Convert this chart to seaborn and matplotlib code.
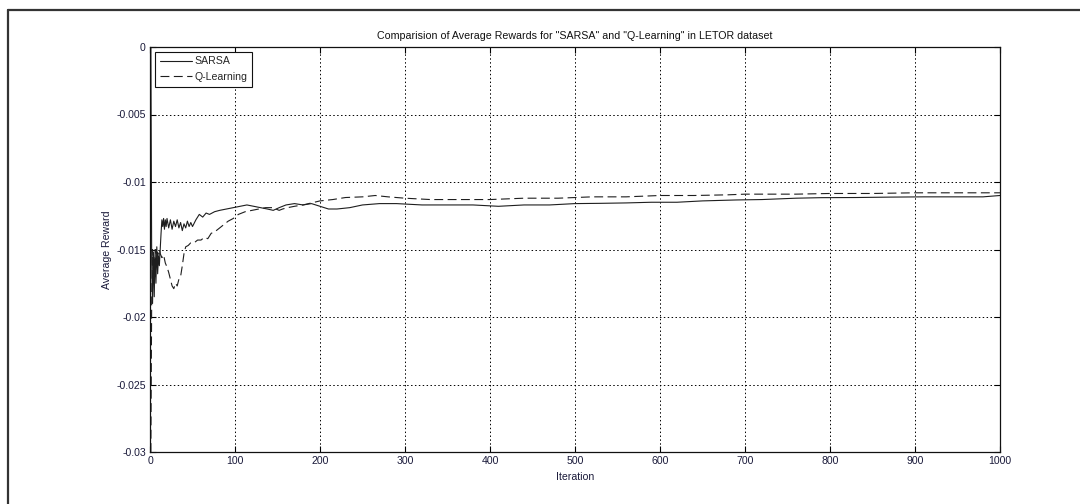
import matplotlib
matplotlib.use("Agg")
import matplotlib.pyplot as plt
from matplotlib.lines import Line2D
import numpy as np
import pandas as pd
import seaborn as sns

# Average reward per iteration for the two learners
sarsa_iter = [1, 2, 3, 4, 5, 6, 7, 8, 9, 10, 11, 12, 13, 14, 15, 16, 17, 18, 19, 20,
              22, 24, 26, 28, 30, 32, 34, 36, 38, 40, 42, 44, 46, 48, 50, 54, 58, 62,
              66, 70, 76, 82, 90, 98, 106, 114, 122, 130, 138, 145, 152, 160, 170, 180,
              190, 200, 210, 220, 235, 250, 270, 290, 320, 350, 380, 410, 440, 470, 500,
              530, 560, 590, 620, 650, 690, 720, 760, 790, 830, 870, 910, 950, 980, 1000]
sarsa_reward = [0.0, -0.0160, -0.0190, -0.0152, -0.0185, -0.0150, -0.0175, -0.0148,
                -0.0168, -0.0155, -0.0162, -0.0150, -0.0138, -0.0128, -0.0133, -0.0127,
                -0.0135, -0.0128, -0.0133, -0.0127, -0.0134, -0.0128, -0.0135, -0.0129,
                -0.0133, -0.0128, -0.0134, -0.0130, -0.0136, -0.0131, -0.0134, -0.0129,
                -0.0133, -0.0130, -0.0133, -0.0128, -0.0124, -0.0126, -0.0123, -0.0124,
                -0.0122, -0.0121, -0.0120, -0.0119, -0.0118, -0.0117, -0.0118, -0.0119,
                -0.0120, -0.0121, -0.0119, -0.0117, -0.0116, -0.0117, -0.0116, -0.0118,
                -0.0120, -0.0120, -0.0119, -0.0117, -0.0116, -0.0116, -0.0117, -0.0117,
                -0.0117, -0.0118, -0.0117, -0.0117, -0.0116, -0.01158, -0.01155, -0.0115,
                -0.0115, -0.0114, -0.01133, -0.0113, -0.0112, -0.01116, -0.01115, -0.01112,
                -0.0111, -0.0111, -0.0111, -0.0110]

qlearn_iter = [1, 2, 3, 4, 5, 6, 7, 8, 9, 10, 11, 12, 14, 16, 18, 20, 22, 24, 26, 28,
               30, 32, 34, 36, 38, 40, 42, 45, 48, 52, 56, 60, 64, 68, 72, 76, 80, 86,
               92, 98, 104, 112, 120, 128, 136, 144, 152, 156, 162, 170, 180, 190, 200,
               215, 230, 250, 265, 280, 300, 330, 360, 400, 440, 480, 520, 560, 600, 640,
               680, 700, 720, 760, 800, 850, 900, 950, 1000]
qlearn_reward = [-0.0300, -0.0185, -0.0150, -0.0175, -0.0155, -0.0170, -0.0150, -0.0162,
                 -0.0152, -0.0158, -0.0150, -0.0153, -0.0156, -0.0154, -0.0160, -0.0163,
                 -0.0167, -0.0172, -0.0177, -0.0179, -0.0175, -0.0177, -0.0172, -0.0170,
                 -0.0162, -0.0153, -0.0148, -0.0147, -0.0145, -0.0145, -0.0143, -0.0143,
                 -0.0141, -0.0142, -0.0138, -0.0137, -0.0135, -0.0132, -0.0129, -0.0127,
                 -0.0124, -0.0122, -0.0121, -0.0120, -0.0119, -0.0119, -0.0121, -0.0120,
                 -0.0119, -0.0118, -0.0117, -0.01155, -0.0114, -0.0113, -0.01115, -0.0111,
                 -0.0110, -0.0111, -0.0112, -0.0113, -0.0113, -0.0113, -0.0112, -0.0112,
                 -0.0111, -0.0111, -0.0110, -0.0110, -0.01095, -0.0109, -0.0109, -0.0109,
                 -0.01085, -0.01085, -0.0108, -0.0108, -0.0108]

x_ticks = [0, 100, 200, 300, 400, 500, 600, 700, 800, 900, 1000]
y_ticks = [-0.03, -0.025, -0.02, -0.015, -0.01, -0.005, 0]
y_tick_labels = ["-0.03", "-0.025", "-0.02", "-0.015", "-0.01", "-0.005", "0"]

sns.set_theme(style="white")
plt.rcParams["font.family"] = ["Liberation Sans", "DejaVu Sans"]
plt.rcParams["xtick.direction"] = "in"
plt.rcParams["ytick.direction"] = "in"

fig = plt.figure(figsize=(10.8, 5.04), dpi=100)
ax = fig.add_axes([150 / 1080, 1 - 452 / 504, 850 / 1080, 405 / 504])

sarsa_df = pd.DataFrame({"Iteration": sarsa_iter, "Average Reward": sarsa_reward})
qlearn_df = pd.DataFrame({"Iteration": qlearn_iter, "Average Reward": qlearn_reward})

line_color = "#1e1e1e"
sns.lineplot(data=sarsa_df, x="Iteration", y="Average Reward", ax=ax,
             color=line_color, linewidth=0.8, label="SARSA")
sns.lineplot(data=qlearn_df, x="Iteration", y="Average Reward", ax=ax,
             color=line_color, linewidth=0.8, linestyle=(0, (8, 4)), label="Q-Learning")

ax.set_xlim(0, 1000)
ax.set_ylim(-0.03, 0)
ax.set_xticks(x_ticks)
ax.set_xticklabels([str(t) for t in x_ticks])
ax.set_yticks(y_ticks)
ax.set_yticklabels(y_tick_labels)

tick_color = "#1a1a3a"
ax.tick_params(axis="both", which="both", labelsize=7.6, colors="black",
               labelcolor=tick_color, length=4, width=0.8,
               top=True, right=True, bottom=True, left=True, pad=3)

ax.grid(True, color="black", linestyle=(0, (1.5, 2.5)), linewidth=0.7)
for side in ["left", "right", "top", "bottom"]:
    ax.spines[side].set_visible(True)
    ax.spines[side].set_color("#111111")
    ax.spines[side].set_linewidth(0.9)

ax.set_title('Comparision of Average Rewards for "SARSA" and "Q-Learning" in LETOR dataset',
             fontsize=7.7, color="#111111", pad=6)
ax.set_xlabel("Iteration", fontsize=7.6, color=tick_color, labelpad=4)
ax.set_ylabel("Average Reward", fontsize=7.6, color=tick_color, labelpad=3)

leg = ax.legend(loc="upper left", fontsize=7.6, frameon=True, fancybox=False,
                borderaxespad=0.45, handlelength=3.1, handletextpad=0.2,
                borderpad=0.45, labelspacing=0.5)
leg.get_frame().set_edgecolor("#111111")
leg.get_frame().set_linewidth(0.8)
leg.get_frame().set_alpha(1)

# Partial outer frame along the left and top edges
fx = 7.5 / 1080
fy = 1 - 9.5 / 504
fig.add_artist(Line2D([fx, fx], [0, fy], transform=fig.transFigure,
                      color="#333333", linewidth=1.6))
fig.add_artist(Line2D([fx, 1], [fy, fy], transform=fig.transFigure,
                      color="#333333", linewidth=1.6))

fig.savefig("out.png", dpi=100)
